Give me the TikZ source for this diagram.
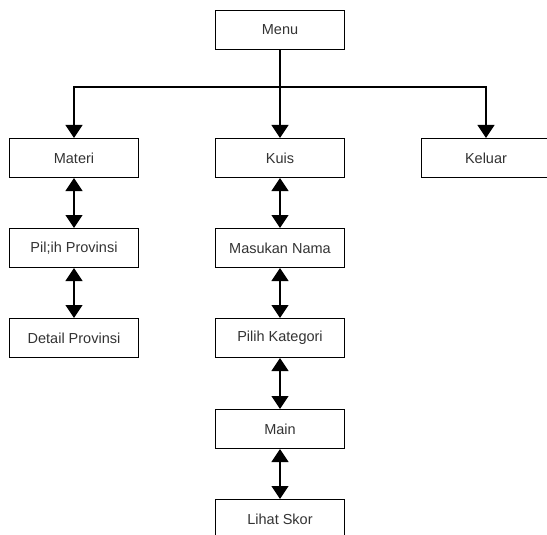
\documentclass[tikz,border=0pt]{standalone}
\usepackage{fontspec}
\setmainfont{Liberation Sans}
\usetikzlibrary{arrows.meta}
\definecolor{txt}{HTML}{333333}
\begin{document}
\begin{tikzpicture}[x=1pt,y=-1pt,
  box/.style={draw=black,line width=1pt,fill=white,anchor=north west,minimum width=129pt,minimum height=39pt,inner sep=0pt,font=\fontsize{14.5pt}{16pt}\selectfont,text=txt},
  conn/.style={line width=1.1pt,draw=black},
  tipa/.style={-{Triangle[width=17pt,length=13pt]}},
  tipb/.style={{Triangle[width=17pt,length=13pt]}-{Triangle[width=17pt,length=13pt]}}]
\useasboundingbox (0,0) rectangle (547,535);
\clip (0,0) rectangle (547,535);
\fill[white] (0,0) rectangle (547,535);
\node[box] (menu) at (215,10) {Menu};
\node[box] (materi) at (9,138) {Materi};
\node[box] (kuis) at (215,138) {Kuis};
\node[box] (keluar) at (421,138) {Keluar};
\node[box] (pilprov) at (9,228) {Pil;ih Provinsi};
\node[box] (detail) at (9,318) {Detail Provinsi};
\node[box] (nama) at (215,228) {Masukan Nama};
\node[box] (kategori) at (215,318) {Pilih Kategori};
\node[box] (main) at (215,409) {Main};
\node[box] (skor) at (215,499) {Lihat Skor};
\coordinate (j) at (279.5,87);
\draw[conn,tipa] (menu.south) -- (kuis.north);
\draw[conn,tipa] (j) -| (materi.north);
\draw[conn,tipa] (j) -| (keluar.north);
\draw[conn,tipb] (materi.south) -- (pilprov.north);
\draw[conn,tipb] (pilprov.south) -- (detail.north);
\draw[conn,tipb] (kuis.south) -- (nama.north);
\draw[conn,tipb] (nama.south) -- (kategori.north);
\draw[conn,tipb] (kategori.south) -- (main.north);
\draw[conn,tipb] (main.south) -- (skor.north);
\end{tikzpicture}
\end{document}
